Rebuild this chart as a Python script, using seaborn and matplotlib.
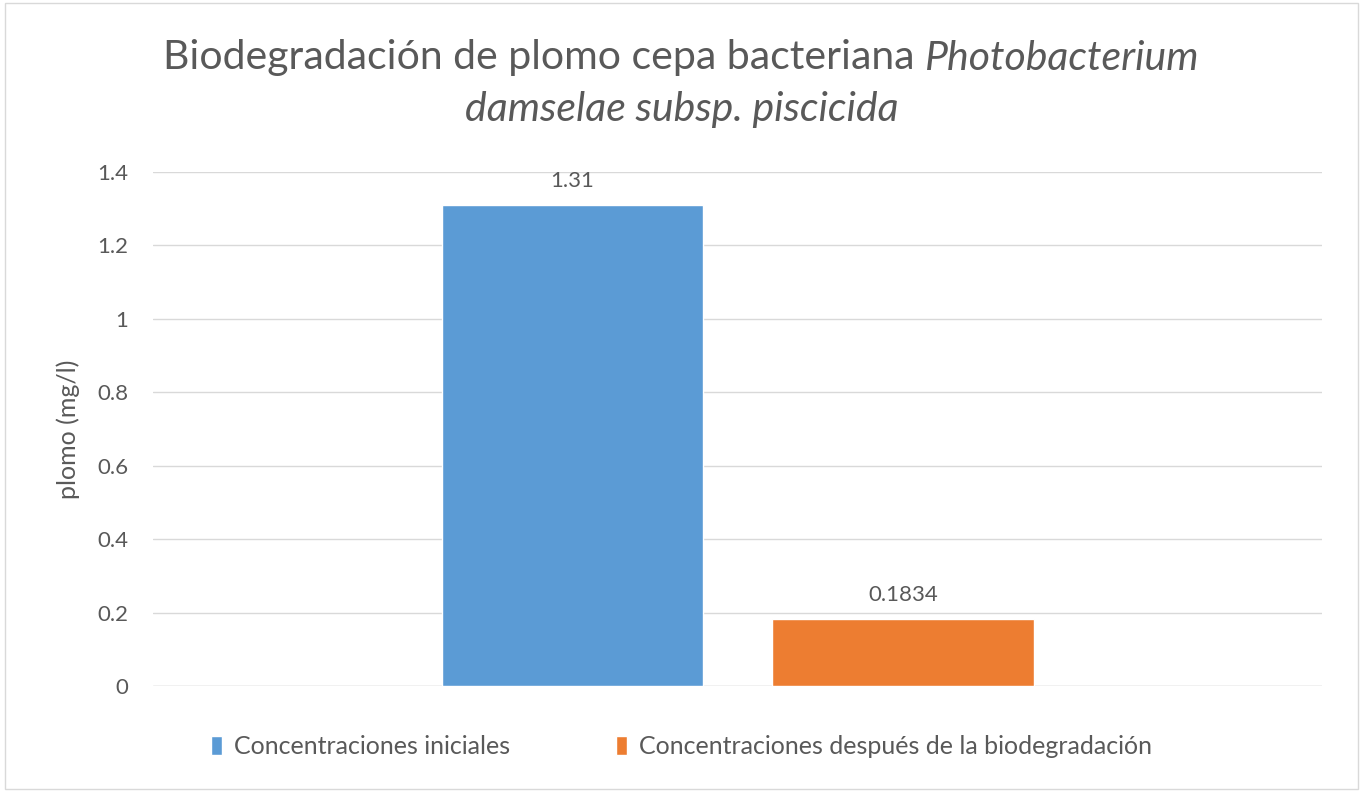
import pandas as pd
import matplotlib
matplotlib.use('Agg')
import matplotlib.pyplot as plt
import seaborn as sns
from matplotlib.patches import Rectangle

# data
series = ['Concentraciones iniciales', 'Concentraciones después de la biodegradación']
values = [1.31, 0.1834]
value_labels = ['1.31', '0.1834']
colors = ['#5B9BD5', '#ED7D31']
yticks = [0, 0.2, 0.4, 0.6, 0.8, 1.0, 1.2, 1.4]
ytick_labels = ['0', '0.2', '0.4', '0.6', '0.8', '1', '1.2', '1.4']

TEXT = '#595959'
GRID = '#D9D9D9'

sns.set_style('white')
plt.rcParams['font.family'] = ['Lato', 'DejaVu Sans']

df = pd.DataFrame({'grupo': ['g'] * len(series), 'serie': series, 'valor': values})

fig = plt.figure(figsize=(13.63, 7.92), dpi=100)
ax = fig.add_axes([0.1123, 0.1338, 0.970 - 0.1123, 0.7828 - 0.1338])

sns.barplot(data=df, x='grupo', y='valor', hue='serie', palette=colors,
            width=0.566, gap=0.211, saturation=1, ax=ax, legend=True)

for cont, lab in zip(ax.containers, value_labels):
    ax.bar_label(cont, labels=[lab], padding=10, fontsize=16, color=TEXT)

ax.set_xlim(-0.5, 0.5)
ax.set_ylim(0, 1.4)
ax.set_yticks(yticks)
ax.set_yticklabels(ytick_labels)
ax.yaxis.grid(True, color=GRID, linewidth=1)
ax.set_axisbelow(True)
ax.set_xticks([])
ax.set_xlabel('')
ax.set_ylabel('plomo (mg/l)', fontsize=18, color=TEXT, labelpad=12)
ax.tick_params(axis='y', labelsize=16, labelcolor=TEXT, length=0, pad=18)
for s in ax.spines.values():
    s.set_visible(False)
ax.axhline(0, color=GRID, linewidth=1, zorder=0)

handles, labels = ax.get_legend_handles_labels()
ax.get_legend().remove()
fig.legend(handles, labels, loc='center', bbox_to_anchor=(0.5, 0.057), ncol=2,
           frameon=False, fontsize=18, labelcolor=TEXT, handlelength=0.45,
           handleheight=0.75, handletextpad=0.5, columnspacing=4.2)

# title: normal part + italic species name, centred by measuring the pieces
fig.canvas.draw()
r = fig.canvas.get_renderer()
tsize = 29.5
y1 = 1 - 58 / 792
y2 = 1 - 109 / 792
t_a = fig.text(0, y1, 'Biodegradación de plomo cepa bacteriana ', fontsize=tsize,
               color=TEXT, va='center')
t_b = fig.text(0, y1, 'Photobacterium', fontsize=tsize, color=TEXT,
               style='italic', va='center')
wa = t_a.get_window_extent(r).width / fig.bbox.width
wb = t_b.get_window_extent(r).width / fig.bbox.width
x0 = 0.5 - (wa + wb) / 2
t_a.set_x(x0)
t_b.set_x(x0 + wa)
fig.text(0.5, y2, 'damselae subsp. piscicida', fontsize=tsize, color=TEXT,
         style='italic', ha='center', va='center')

fig.patches.append(Rectangle((0.004, 0.004), 0.992, 0.992, transform=fig.transFigure,
                             fill=False, edgecolor='#D9D9D9', linewidth=1))

fig.savefig('out.png', dpi=100, facecolor='white')
